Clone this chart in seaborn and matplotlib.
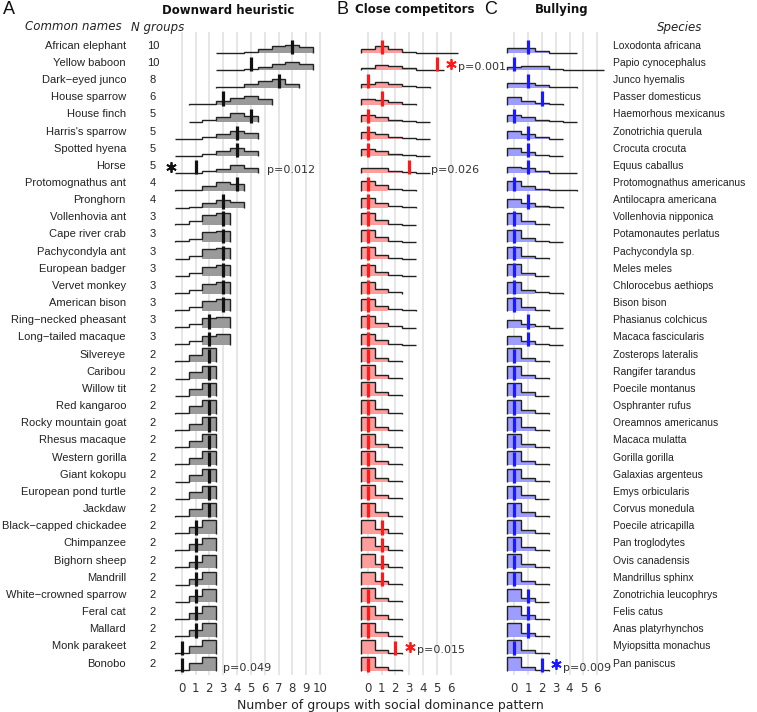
import numpy as np
import matplotlib
matplotlib.use("Agg")
import matplotlib.pyplot as plt
import matplotlib.transforms as mtransforms
import seaborn as sns

# ---- data -------------------------------------------------------------
common_names = ["African elephant", "Yellow baboon", "Dark\u2212eyed junco", "House sparrow",
                "House finch", "Harris's sparrow", "Spotted hyena", "Horse",
                "Protomognathus ant", "Pronghorn", "Vollenhovia ant", "Cape river crab",
                "Pachycondyla ant", "European badger", "Vervet monkey", "American bison",
                "Ring\u2212necked pheasant", "Long\u2212tailed macaque", "Silvereye", "Caribou",
                "Willow tit", "Red kangaroo", "Rocky mountain goat", "Rhesus macaque",
                "Western gorilla", "Giant kokopu", "European pond turtle", "Jackdaw",
                "Black\u2212capped chickadee", "Chimpanzee", "Bighorn sheep", "Mandrill",
                "White\u2212crowned sparrow", "Feral cat", "Mallard", "Monk parakeet", "Bonobo"]
species = ["Loxodonta africana", "Papio cynocephalus", "Junco hyemalis", "Passer domesticus",
           "Haemorhous mexicanus", "Zonotrichia querula", "Crocuta crocuta", "Equus caballus",
           "Protomognathus americanus", "Antilocapra americana", "Vollenhovia nipponica",
           "Potamonautes perlatus", "Pachycondyla sp.", "Meles meles", "Chlorocebus aethiops",
           "Bison bison", "Phasianus colchicus", "Macaca fascicularis", "Zosterops lateralis",
           "Rangifer tarandus", "Poecile montanus", "Osphranter rufus", "Oreamnos americanus",
           "Macaca mulatta", "Gorilla gorilla", "Galaxias argenteus", "Emys orbicularis",
           "Corvus monedula", "Poecile atricapilla", "Pan troglodytes", "Ovis canadensis",
           "Mandrillus sphinx", "Zonotrichia leucophrys", "Felis catus", "Anas platyrhynchos",
           "Myiopsitta monachus", "Pan paniscus"]
n_groups = [10, 10, 8, 6, 5, 5, 5, 5, 4, 4, 3, 3, 3, 3, 3, 3, 3, 3,
            2, 2, 2, 2, 2, 2, 2, 2, 2, 2, 2, 2, 2, 2, 2, 2, 2, 2, 2]

# Downward heuristic: first bin of null distribution, null heights, observed, first filled bin
down_lo = [3, 3, 3, 1, 1, 0, 0, 0, 0, 0, 0, 0, 0, 0, 0, 0, 0, 0,
           0, 0, 0, 0, 0, 0, 0, 0, 0, 0, 0, 0, 0, 0, 0, 0, 0, 0, 0]
down_null = [
    [0.02, 0.04, 0.10, 0.27, 0.40, 0.50, 0.35],
    [0.02, 0.04, 0.08, 0.20, 0.37, 0.49, 0.37],
    [0.01, 0.06, 0.20, 0.38, 0.50, 0.20],
    [0.02, 0.06, 0.23, 0.38, 0.50, 0.33],
    [0.02, 0.12, 0.31, 0.52, 0.35],
    [0.01, 0.03, 0.14, 0.30, 0.48, 0.33],
    [0.01, 0.03, 0.15, 0.31, 0.47, 0.32],
    [0.01, 0.03, 0.13, 0.28, 0.47, 0.33],
    [0.01, 0.06, 0.24, 0.48, 0.38],
    [0.01, 0.07, 0.25, 0.47, 0.35],
    [0.04, 0.20, 0.58, 0.67],
    [0.04, 0.20, 0.57, 0.67],
    [0.04, 0.21, 0.58, 0.66],
    [0.04, 0.20, 0.57, 0.67],
    [0.04, 0.21, 0.58, 0.67],
    [0.04, 0.20, 0.58, 0.66],
    [0.04, 0.24, 0.55, 0.62],
    [0.04, 0.24, 0.55, 0.62],
    [0.04, 0.42, 0.80], [0.04, 0.42, 0.80], [0.04, 0.42, 0.80], [0.04, 0.42, 0.80],
    [0.04, 0.42, 0.80], [0.04, 0.42, 0.80], [0.04, 0.42, 0.80], [0.04, 0.42, 0.80],
    [0.04, 0.42, 0.80], [0.04, 0.42, 0.80],
    [0.04, 0.38, 0.78], [0.04, 0.38, 0.78], [0.04, 0.38, 0.78], [0.04, 0.38, 0.78],
    [0.04, 0.38, 0.78], [0.04, 0.38, 0.78], [0.04, 0.38, 0.78],
    [0.05, 0.45, 0.80], [0.05, 0.45, 0.80],
]
down_obs = [8, 5, 7, 3, 5, 4, 4, 1, 4, 3, 3, 3, 3, 3, 3, 3, 2, 2,
            2, 2, 2, 2, 2, 2, 2, 2, 2, 2, 1, 1, 1, 1, 1, 1, 1, 0, 0]
down_fill_from = [6, 6, 5, 3, 3, 3, 3, 3, 2, 2, 2, 2, 2, 2, 2, 2, 2, 2,
                  1, 1, 1, 1, 1, 1, 1, 1, 1, 1, 1, 1, 1, 1, 1, 1, 1, 1, 1]

# Close competitors (null starts at 0)
comp_null = [
    [0.24, 0.45, 0.27, 0.09, 0.03, 0.01, 0.01],
    [0.17, 0.33, 0.27, 0.12, 0.04, 0.02],
    [0.20, 0.33, 0.23, 0.08, 0.02],
    [0.33, 0.30, 0.16, 0.04],
    [0.42, 0.30, 0.14, 0.05, 0.01],
    [0.43, 0.29, 0.14, 0.05, 0.01],
    [0.42, 0.30, 0.15, 0.05, 0.01],
    [0.32, 0.30, 0.15, 0.06, 0.02],
    [0.55, 0.30, 0.10, 0.02],
    [0.56, 0.30, 0.10, 0.02],
    [0.68, 0.28, 0.08, 0.02],
    [0.68, 0.28, 0.08, 0.02],
    [0.69, 0.27, 0.08, 0.02],
    [0.68, 0.28, 0.08, 0.02],
    [0.70, 0.27, 0.06],
    [0.68, 0.28, 0.08, 0.02],
    [0.68, 0.28, 0.08, 0.02],
    [0.67, 0.28, 0.08, 0.02],
    [0.82, 0.25, 0.06], [0.82, 0.25, 0.06], [0.82, 0.25, 0.06], [0.82, 0.25, 0.06],
    [0.82, 0.25, 0.06], [0.82, 0.25, 0.06], [0.82, 0.25, 0.06], [0.82, 0.25, 0.06],
    [0.82, 0.25, 0.06], [0.82, 0.25, 0.06], [0.80, 0.26, 0.06], [0.80, 0.26, 0.06],
    [0.80, 0.26, 0.06], [0.80, 0.26, 0.06], [0.82, 0.25, 0.06], [0.82, 0.25, 0.06],
    [0.82, 0.25, 0.06], [0.82, 0.25, 0.07], [0.82, 0.25, 0.06],
]
comp_obs = [1, 5, 0, 1, 0, 0, 0, 3, 0, 0, 0, 0, 0, 0, 0, 0, 0, 0,
            0, 0, 0, 0, 0, 0, 0, 0, 0, 0, 1, 1, 1, 1, 0, 0, 0, 2, 0]
comp_fill_to = [2, 3, 2, 2, 2, 2, 2, 2, 1, 1, 1, 1, 1, 1, 1, 1, 1, 1,
                1, 1, 1, 1, 1, 1, 1, 1, 1, 1, 1, 1, 1, 1, 1, 1, 1, 1, 1]

# Bullying (null starts at 0)
bully_null = [
    [0.30, 0.30, 0.15, 0.04, 0.01],
    [0.18, 0.28, 0.25, 0.10, 0.03, 0.01, 0.01],
    [0.24, 0.28, 0.15, 0.04, 0.01],
    [0.45, 0.22, 0.10, 0.02],
    [0.42, 0.30, 0.12, 0.03, 0.01],
    [0.47, 0.27, 0.10, 0.02],
    [0.47, 0.27, 0.10, 0.02],
    [0.40, 0.30, 0.12, 0.03, 0.01],
    [0.55, 0.25, 0.08, 0.02, 0.01],
    [0.50, 0.28, 0.08, 0.02],
    [0.72, 0.20, 0.04],
    [0.70, 0.22, 0.06, 0.01],
    [0.72, 0.20, 0.05],
    [0.72, 0.20, 0.05],
    [0.70, 0.22, 0.06, 0.01],
    [0.72, 0.20, 0.05],
    [0.48, 0.25, 0.08, 0.02],
    [0.50, 0.26, 0.08, 0.02],
    [0.80, 0.24, 0.05], [0.80, 0.24, 0.05], [0.80, 0.24, 0.05], [0.80, 0.24, 0.05],
    [0.80, 0.24, 0.05], [0.80, 0.24, 0.05], [0.80, 0.24, 0.05], [0.80, 0.24, 0.05],
    [0.80, 0.24, 0.05], [0.80, 0.24, 0.05], [0.80, 0.24, 0.05], [0.80, 0.24, 0.05],
    [0.80, 0.24, 0.05], [0.80, 0.24, 0.05], [0.80, 0.24, 0.05], [0.80, 0.24, 0.05],
    [0.80, 0.24, 0.05], [0.80, 0.24, 0.05], [0.80, 0.24, 0.05],
]
bully_obs = [1, 0, 1, 2, 0, 1, 1, 1, 0, 1, 0, 0, 0, 0, 0, 0, 1, 1,
             0, 0, 0, 0, 0, 0, 0, 0, 0, 0, 0, 0, 0, 0, 1, 1, 1, 0, 2]
bully_fill_to = [2, 3, 2, 2, 2, 2, 2, 2, 2, 2, 1, 1, 1, 1, 1, 1, 1, 1,
                 1, 1, 1, 1, 1, 1, 1, 1, 1, 1, 1, 1, 1, 1, 1, 1, 1, 1, 1]

# p-value notes: (row, text, star?)
down_notes = [(7, "p=0.012", True), (36, "p=0.049", False)]
comp_notes = [(1, "p=0.001", True), (7, "p=0.026", False), (35, "p=0.015", True)]
bully_notes = [(36, "p=0.009", True)]

# ---- style ------------------------------------------------------------
sns.set_theme(style="white")
plt.rcParams["font.family"] = ["DejaVu Sans"]

W, H = 757, 712
fig = plt.figure(figsize=(W / 100, H / 100), dpi=100)

n = len(common_names)
rows = -np.arange(n)
Y_TOP, Y_BOT = 32, 675
ylim = (-(n - 1) - 0.23, 1.24)


def add_panel(x0, xmax):
    # x0 = pixel of value 0, 13.83 px per unit
    u = 13.83
    left = x0 - 0.85 * u
    width = (xmax + 1.7) * u
    ax = fig.add_axes([left / W, 1 - Y_BOT / H, width / W, (Y_BOT - Y_TOP) / H])
    ax.set_xlim(-0.85, xmax + 0.85)
    ax.set_ylim(*ylim)
    ax.set_xticks(range(xmax + 1))
    ax.set_yticks([])
    ax.grid(axis="x", color="#e4e4e4", lw=1.3)
    ax.set_axisbelow(True)
    sns.despine(ax=ax, left=True, bottom=True)
    ax.tick_params(axis="x", length=0, pad=5, labelsize=8.5, labelcolor="#333333")
    ax.set_facecolor("none")
    return ax


def draw_ridges(ax, lows, nulls, obs, fill_rng, fill_color, tick_color):
    for i in range(n):
        y0 = rows[i]
        h = np.array(nulls[i])
        bins = np.arange(len(h)) + lows[i]
        edges = np.append(bins - 0.5, bins[-1] + 0.5)
        f0, f1 = fill_rng(i, bins)
        sel = (bins >= f0) & (bins <= f1)
        idx = np.where(sel)[0]
        if len(idx):
            ax.stairs(h[idx] + y0, edges[idx[0]:idx[-1] + 2], baseline=y0, fill=True,
                      color=fill_color, lw=0, zorder=2 + i * 0.01)
        ax.stairs(h + y0, edges, baseline=y0, color="#222222", lw=1.0, zorder=3 + i * 0.01)
        ax.plot([obs[i], obs[i]], [y0 - 0.05, y0 + 0.78], color=tick_color, lw=2.3,
                solid_capstyle="butt", zorder=4)


def add_notes(ax, notes, obs, star_color):
    for r, txt, star in notes:
        y0 = rows[r]
        if ax is ax_a:
            sx, tx = -0.75, (6.2 if r == 7 else 3.0)
        else:
            sx = obs[r] + 1.05
            tx = sx + 0.5 if star else obs[r] + 1.6
        if star:
            ax.plot(sx, y0 + 0.4, marker=(6, 2, 0), ms=7.5, mew=1.3, color=star_color,
                    clip_on=False, zorder=5)
        ax.text(tx, y0 + 0.2, txt, fontsize=8, color="#333333", va="center", ha="left",
                clip_on=False)


ax_a = add_panel(181.7, 10)
ax_b = add_panel(367.7, 6)
ax_c = add_panel(514.3, 6)

draw_ridges(ax_a, down_lo, down_null, down_obs,
            lambda i, b: (down_fill_from[i], b[-1]), "#9a9a9a", "#111111")
draw_ridges(ax_b, [0] * n, comp_null, comp_obs,
            lambda i, b: (0, comp_fill_to[i]), "#ff9d9d", "#ff1a1a")
draw_ridges(ax_c, [0] * n, bully_null, bully_obs,
            lambda i, b: (0, bully_fill_to[i]), "#9d9dff", "#1a1aff")

add_notes(ax_a, down_notes, down_obs, "#111111")
add_notes(ax_b, comp_notes, comp_obs, "#ff1a1a")
add_notes(ax_c, bully_notes, bully_obs, "#1a1aff")

# ---- labels -----------------------------------------------------------
tr = mtransforms.blended_transform_factory(fig.transFigure, ax_a.transData)
for i in range(n):
    y = rows[i] + 0.44
    fig.text(126 / W, y, common_names[i], transform=tr, ha="right", va="center",
             fontsize=8, family="Liberation Sans", color="#222222")
    fig.text(153 / W, y, str(n_groups[i]), transform=tr, ha="center", va="center",
             fontsize=8, family="Liberation Sans", color="#222222")
    fig.text(613 / W, y, species[i], transform=tr, ha="left", va="center",
             fontsize=7.5, family="Liberation Sans", color="#222222")

fig.text(122 / W, 1 - 27 / H, "Common names", ha="right", va="center", fontsize=8.5,
         style="italic", color="#222222")
fig.text(131 / W, 1 - 27 / H, "N groups", ha="left", va="center", fontsize=8.5,
         style="italic", color="#222222")
fig.text(680 / W, 1 - 27 / H, "Species", ha="center", va="center", fontsize=8.5,
         style="italic", color="#222222")

for x, t in [(228, "Downward heuristic"), (415, "Close competitors"), (562, "Bullying")]:
    fig.text(x / W, 1 - 10 / H, t, ha="center", va="center", fontsize=8.5,
             fontweight="bold", color="#111111")
for x, t in [(3, "A"), (336, "B"), (484, "C")]:
    fig.text(x / W, 1 - 10 / H, t, ha="left", va="center", fontsize=13,
             family="Liberation Sans", color="#111111")

fig.text(390 / W, 1 - 705 / H, "Number of groups with social dominance pattern",
         ha="center", va="center", fontsize=9, color="#222222")

fig.savefig("out.png", dpi=100)
